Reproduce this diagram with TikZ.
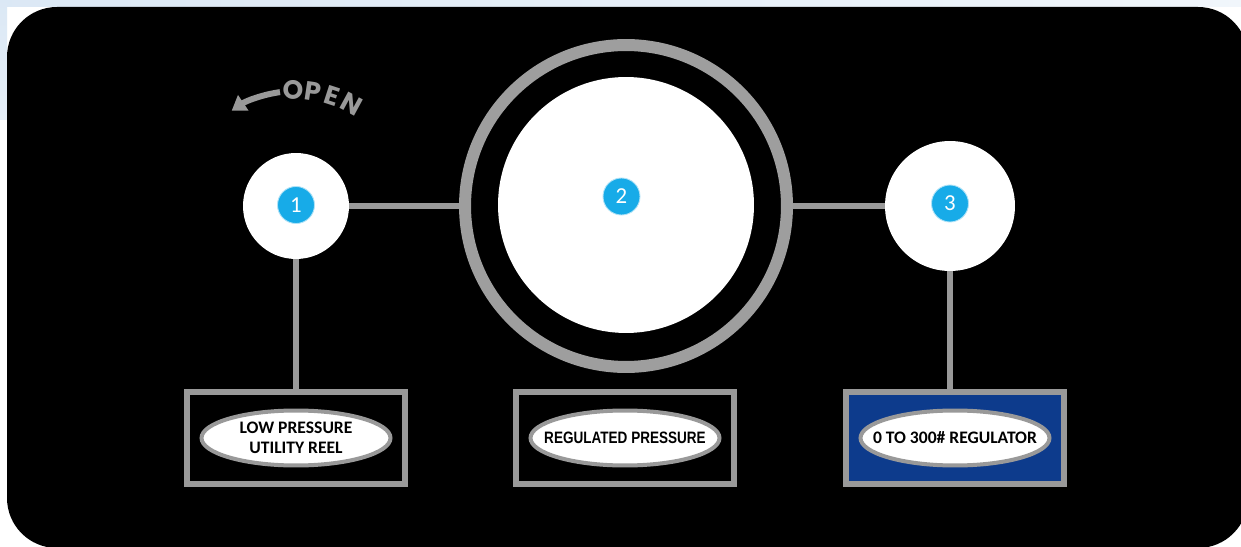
\documentclass[tikz,border=0pt]{standalone}
\usepackage{fontspec}
\usepackage{xcolor}
\usepackage{tikz}
\usetikzlibrary{arrows.meta,positioning,calc,shapes.geometric}
\newfontfamily\tagfont{Carlito}
\newfontfamily\narrowfont[FakeStretch=0.82]{Liberation Sans}
\newfontfamily\openfont{Poppins}
\definecolor{panelgray}{gray}{0.60}
\definecolor{ringgray}{gray}{0.62}
\definecolor{opengray}{gray}{0.60}
\definecolor{badgeblue}{rgb}{0.09,0.67,0.91}
\definecolor{plateblue}{rgb}{0.05,0.23,0.55}
\definecolor{skyblue}{rgb}{0.86,0.91,0.96}
\tikzset{
  knob/.style={circle,fill=white,inner sep=0pt},
  ringline/.style={circle,draw=ringgray,line width=0.24cm,inner sep=0pt},
  link/.style={panelgray,line width=0.12cm},
  plate/.style={rectangle,draw=panelgray,line width=0.12cm,minimum width=4.38cm,minimum height=1.84cm,inner sep=0pt},
  tag/.style={ellipse,draw=panelgray,line width=0.08cm,fill=white,minimum width=3.78cm,minimum height=1.1cm,
    inner xsep=-0.5cm,inner ysep=-2pt,align=center,text=black},
  badge/.style={circle,fill=badgeblue,draw=badgeblue!35,line width=0.5pt,text=white,inner sep=0pt,
    minimum size=0.74cm,font=\tagfont\fontsize{13}{13}\selectfont},
  openarrow/.style={draw=opengray,line width=0.12cm,-{Triangle[width=0.36cm,length=0.28cm]}},
  opentxt/.style={text=opengray,inner sep=0pt,font=\openfont\bfseries\fontsize{15}{15}\selectfont},
}
\begin{document}
\begin{tikzpicture}[x=0.02cm,y=-0.02cm]
  \useasboundingbox (0,0) rectangle (1241,547);
  \fill[white] (0,0) rectangle (1241,547);
  \shade[left color=skyblue,right color=skyblue!40] (0,0) rectangle (1241,7);
  \shade[top color=skyblue,bottom color=skyblue!70] (0,0) rectangle (7,120);
  % panel
  \fill[black,rounded corners=1cm] (7,7) rectangle (1248,548);
  % knobs and gauge
  \node[knob,minimum size=2.12cm] (k1) at (296,206) {};
  \node[ringline,minimum size=6.44cm] (ring) at (626,206) {};
  \node[knob,minimum size=5.12cm] (k2) at (626,205) {};
  \node[knob,minimum size=2.6cm] (k3) at (950,206) {};
  \draw[link] (k1) -- (ring);
  \draw[link] (ring) -- (k3);
  % name plates
  \node[plate] (box1) at (296,438) {};
  \node[plate] (box2) at (625,438) {};
  \node[plate,fill=plateblue] (box3) at (955,438) {};
  \draw[link] (k1) -- (box1);
  \draw[link] (k3.south) -- (k3.south |- box3.north);
  \node[tag,font=\tagfont\bfseries\fontsize{10}{11.5}\selectfont] (tag1) at (box1) {LOW PRESSURE\\UTILITY REEL};
  \node[tag,font=\narrowfont\bfseries\fontsize{9.4}{10}\selectfont] (tag2) at (box2) {REGULATED PRESSURE};
  \node[tag,font=\tagfont\bfseries\fontsize{10}{11.5}\selectfont] (tag3) at (box3) {0 TO 300\# REGULATOR};
  % number badges
  \node[badge] (b1) at (296,205) {1};
  \node[badge] (b2) at (621.5,196.5) {2};
  \node[badge] (b3) at (950,203.5) {3};
  % open direction
  \draw[openarrow] (k1.center) ++(-98:115) arc[start angle=-98,end angle=-124,radius=115];
  \foreach \ch/\ang [count=\i] in {O/91.5,P/81.5,E/72,N/61.5}
    \node[opentxt,rotate=\ang-90] (open\i) at ($(k1.center)+(-\ang:116)$) {\ch};
\end{tikzpicture}
\end{document}
